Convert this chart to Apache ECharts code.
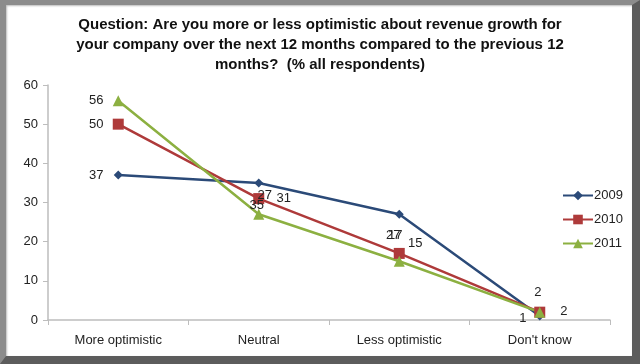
<!DOCTYPE html>
<html>
<head>
<meta charset="utf-8">
<script src="https://cdn.jsdelivr.net/npm/echarts@6/dist/echarts.min.js"></script>
<style>
html,body{margin:0;padding:0;background:#fff;}
#chart{position:absolute;left:0;top:0;width:640px;height:364px;}
#frame{position:absolute;left:0;top:0;width:640px;height:364px;box-sizing:border-box;pointer-events:none;
border-left:6px solid #8c8c8c;border-top:5px solid #8c8c8c;border-right:8px solid #5c5c5c;border-bottom:8px solid #5c5c5c;
box-shadow:inset 1px 1px 2px #bbb;}
</style>
</head>
<body>
<div id="chart"></div>
<div id="frame"></div>
<script>
const categories = ['More optimistic', 'Neutral', 'Less optimistic', "Don't know"];
const seriesNames = ['2009', '2010', '2011'];
const values2009 = [37, 35, 27, 1];
const values2010 = [50, 31, 17, 2];
const values2011 = [56, 27, 15, 2];
const yTicks = [0, 10, 20, 30, 40, 50, 60];
const titleText = 'Question: Are you more or less optimistic about revenue growth for\nyour company over the next 12 months compared to the previous 12\nmonths?  (% all respondents)';

// label offsets (style only)
const labelOffsets = [
  [[-22, 0], [-2, 23], [-6, 21], [-17, 2]],
  [[-22, 0], [25, 0], [-4, -18], [-2, -20]],
  [[-22, 0], [6, -19], [16, -18], [24, -1]]
];
const colors = ['#2B4A78', '#AE3A3A', '#8CB041'];
const symbols = ['diamond', 'rect', 'triangle'];
const symbolSizes = [9, 11, 11];
const allValues = [values2009, values2010, values2011];
const FONT = 'Liberation Sans, Arial, sans-serif';

const chart = echarts.init(document.getElementById('chart'), null, {renderer: 'canvas'});
const series = allValues.map((vals, i) => ({
  name: seriesNames[i],
  type: 'line',
  data: vals.map((v, j) => ({
    value: v,
    label: {show: true, position: 'inside', offset: labelOffsets[i][j]}
  })),
  symbol: symbols[i],
  symbolSize: symbolSizes[i],
  showAllSymbol: true,
  lineStyle: {width: 2.5, color: colors[i]},
  itemStyle: {color: colors[i]},
  label: {color: '#222', fontSize: 13, fontFamily: FONT},
  emphasis: {disabled: true},
  animation: false
}));

chart.setOption({
  backgroundColor: '#fff',
  animation: false,
  title: {
    text: titleText,
    left: 'center',
    top: 15,
    padding: [0, 0, 0, 10],
    textStyle: {fontSize: 15, fontWeight: 'bold', color: '#111', lineHeight: 20, fontFamily: FONT}
  },
  legend: {
    orient: 'vertical',
    left: 557,
    top: 184,
    itemWidth: 30,
    itemHeight: 12,
    itemGap: 11,
    data: seriesNames,
    textStyle: {fontSize: 13, color: '#222', fontFamily: FONT, padding: [0, 0, 0, -4]}
  },
  grid: {left: 48, right: 30, top: 85, bottom: 44},
  xAxis: {
    type: 'category',
    data: categories,
    boundaryGap: true,
    axisLine: {lineStyle: {color: '#bdbdbd', width: 1.5}},
    axisTick: {show: true, length: 5, lineStyle: {color: '#bdbdbd'}},
    axisLabel: {color: '#222', fontSize: 13, margin: 14, fontFamily: FONT},
    splitLine: {show: false}
  },
  yAxis: {
    type: 'value',
    min: yTicks[0],
    max: yTicks[yTicks.length - 1],
    interval: 10,
    axisLine: {show: true, lineStyle: {color: '#bdbdbd', width: 1.5}},
    axisTick: {show: true, length: 5, lineStyle: {color: '#bdbdbd'}},
    axisLabel: {color: '#222', fontSize: 13, margin: 10, fontFamily: FONT},
    splitLine: {show: false}
  },
  series: series
});
</script>
</body>
</html>
